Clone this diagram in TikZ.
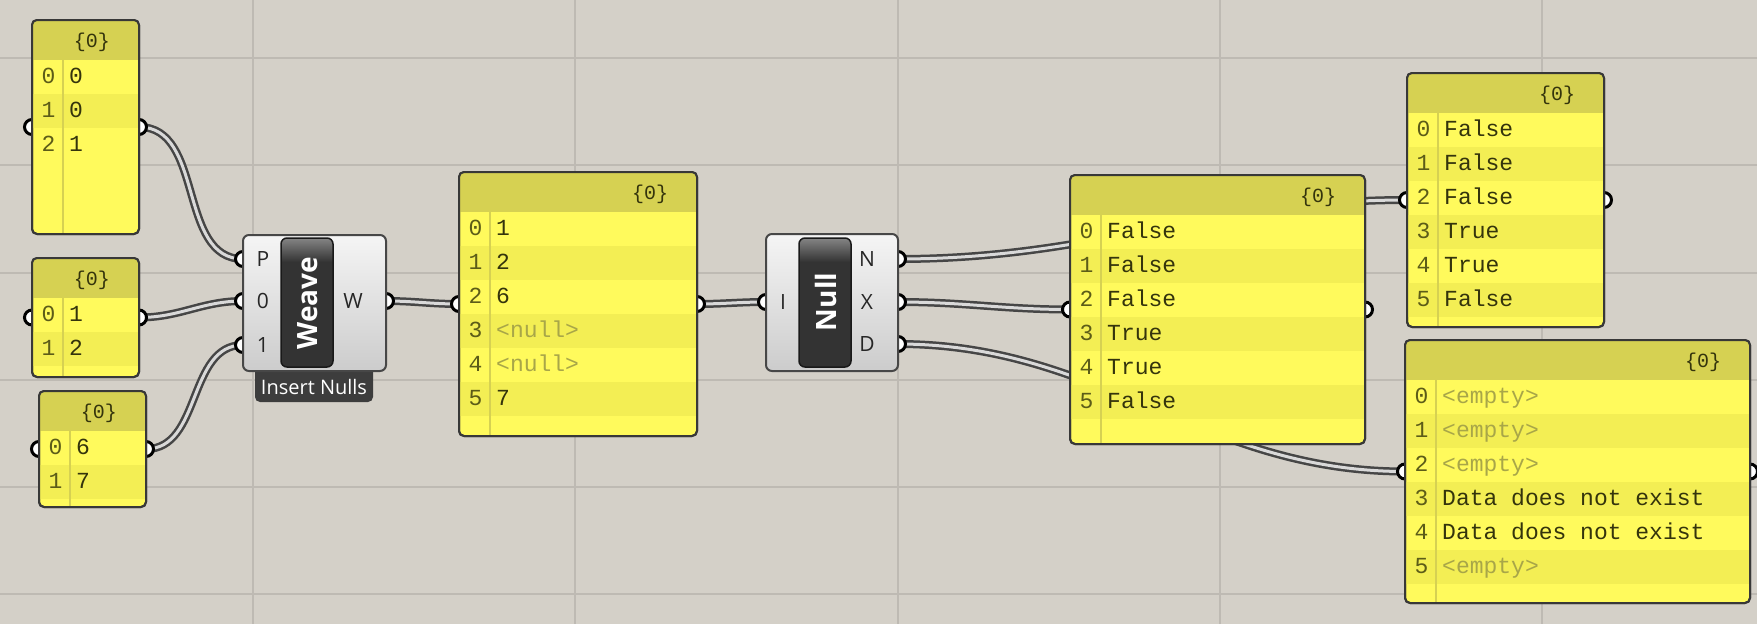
\documentclass[tikz,border=0pt]{standalone}
\usepackage{fontspec}
\newfontfamily\ghmono{Liberation Mono}
\newfontfamily\ghsans{Open Sans}
\usetikzlibrary{fit}
\usetikzlibrary{backgrounds}

\definecolor{ghbg}{RGB}{212,208,200}
\definecolor{ghgrid}{RGB}{190,186,179}
\definecolor{ghyellow}{RGB}{255,250,92}
\definecolor{ghband}{RGB}{243,238,84}
\definecolor{ghhead}{RGB}{214,209,82}
\definecolor{ghtext}{RGB}{52,52,12}
\definecolor{ghidx}{RGB}{92,92,24}
\definecolor{ghnull}{RGB}{168,166,72}
\definecolor{ghwire}{RGB}{70,70,70}

\begin{document}
\begin{tikzpicture}[x=1pt,y=-1pt]
\tikzset{panel/.style={draw=black!78,line width=2pt,rounded corners=5pt,fill=ghyellow,inner sep=0,outer sep=0}}
\tikzset{panelrim/.style={draw=black!78,line width=2pt,rounded corners=5pt}}
\tikzset{comp/.style={draw=black!72,line width=2pt,rounded corners=6pt,top color=black!4,bottom color=black!20,inner sep=0,outer sep=0}}
\tikzset{block/.style={draw=black!90,line width=1.5pt,rounded corners=6pt,inner sep=0,outer sep=0}}
\tikzset{tag/.style={fill=black!76,rounded corners=5pt,inner sep=0,outer sep=0}}
\tikzset{idx/.style={font=\ghmono\fontsize{23}{26}\selectfont,text=ghidx,anchor=base,inner sep=0}}
\tikzset{val/.style={font=\ghmono\fontsize{23}{26}\selectfont,text=ghtext,anchor=base west,inner sep=0}}
\tikzset{headtxt/.style={font=\ghmono\fontsize{20}{24}\selectfont,text=ghtext,anchor=base,inner sep=0}}
\tikzset{port/.style={font=\ghsans\fontsize{21}{24}\selectfont,text=black!85,inner sep=0}}
\tikzset{tagtxt/.style={font=\ghsans\fontsize{20}{22}\selectfont,text=white,inner sep=0}}
\tikzset{nametxt/.style={font=\ghsans\bfseries\fontsize{28}{30}\selectfont,text=white,rotate=90,inner sep=0}}
\tikzset{wire/.style={draw=ghwire,line width=2.5pt,double=black!15,double distance=3pt}}
\tikzset{grip/.style={draw=black,line width=3pt,fill=white}}

\useasboundingbox (0,0) rectangle (1757,624);

% panels - name / left / top / right / bottom / darker rows / items
\foreach \nm/\xl/\yt/\xr/\yb/\bands/\vals in {
  p1/32/20/139/234/{1}/{0,0,1},
  p2/32/258/139/377/{1}/{1,2},
  p3/39/391/146/507/{1}/{6,7},
  p4/459/172/697/436/{1,3,5}/{1,2,6,\textcolor{ghnull}{<null>},\textcolor{ghnull}{<null>},7},
  p5/1070/175/1365/444/{1,3,5}/{False,False,False,True,True,False},
  p6/1407/73/1604/327/{1,3,5}/{False,False,False,True,True,False},
  p7/1405/340/1750/603/{1,3,5}/{\textcolor{ghnull}{<empty>},\textcolor{ghnull}{<empty>},\textcolor{ghnull}{<empty>},Data does not exist,Data does not exist,\textcolor{ghnull}{<empty>}}} {
  \node[panel,fit={(\xl,\yt) (\xr,\yb)}] (\nm) {};
  \begin{scope}
    \clip[rounded corners=5pt] (\xl,\yt) rectangle (\xr,\yb);
    \fill[ghhead] (\xl,\yt) rectangle (\xr,\yt+40);
    \foreach \k in \bands
      \fill[ghband] (\xl,\yt+40+34*\k) rectangle (\xr,\yt+74+34*\k);
    \draw[ghhead,line width=1.5pt] (\xl+31,\yt) -- (\xl+31,\yb);
  \end{scope}
  \draw[panelrim] (\xl,\yt) rectangle (\xr,\yb);
  \node[headtxt] (\nm-h) at (\xr-47,\yt+27) {\{0\}};
  \foreach \txt [count=\i from 0] in \vals {
    \node[idx] (\nm-i\i) at (\xl+16.5,\yt+63+34*\i) {\i};
    \node[val] (\nm-v\i) at (\xl+37,\yt+63+34*\i) {\txt};
  }
}

% weave component
\node[tag,fit={(255,360) (373,402)}] (wv-t) {};
\node[tagtxt] (wv-tl) at (314,387) {Insert Nulls};
\node[comp,fit={(243,235) (386,371)}] (wv) {};
\begin{scope}
\clip[rounded corners=6pt] (281,238) rectangle (333,367);
\fill[black!80] (281,238) rectangle (333,367);
\shade[top color=black!48,bottom color=black!80] (281,238) rectangle (333,262);
\end{scope}
\node[block,fit={(281,238) (333,367)}] (wv-b) {};
\node[nametxt] (wv-n) at (308,303) {Weave};
\node[port] (wv-P) at (263,259) {P};
\node[port] (wv-0) at (263,301) {0};
\node[port] (wv-1) at (263,345) {1};
\node[port] (wv-W) at (353,301) {W};

% null component
\node[comp,fit={(766,234) (898,371)}] (nl) {};
\begin{scope}
\clip[rounded corners=6pt] (799,238) rectangle (851,367);
\fill[black!80] (799,238) rectangle (851,367);
\shade[top color=black!48,bottom color=black!80] (799,238) rectangle (851,262);
\end{scope}
\node[block,fit={(799,238) (851,367)}] (nl-b) {};
\node[nametxt] (nl-n) at (826,302) {Null};
\node[port] (nl-I) at (783,302) {I};
\node[port] (nl-N) at (867,259) {N};
\node[port] (nl-X) at (867,302) {X};
\node[port] (nl-D) at (867,344) {D};

\begin{scope}[on background layer]
\fill[ghbg] (0,0) rectangle (1757,624);
\foreach \x in {253,575,898,1220,1542}
  \draw[ghgrid,line width=2pt] (\x,0) -- (\x,624);
\foreach \y in {58,165,273,380,487,594}
  \draw[ghgrid,line width=2pt] (0,\y) -- (1757,\y);

% wires
\draw[wire] (p1.east) to[out=0,in=180] (wv-P -| wv.west);
\draw[wire] (p2.east) to[out=0,in=180] (wv-0 -| wv.west);
\draw[wire] (p3.east) to[out=0,in=180] (wv-1 -| wv.west);
\draw[wire] (wv-W -| wv.east) to[out=0,in=180] (p4.west);
\draw[wire] (p4.east) to[out=0,in=180] (nl-I -| nl.west);
\draw[wire] (nl-N -| nl.east) to[out=0,in=180] (p6.west);
\draw[wire] (nl-X -| nl.east) to[out=0,in=180] (p5.west);
\draw[wire] (nl-D -| nl.east) to[out=0,in=180] (p7.west);

% grips
\foreach \k in {1,...,7}
  \draw[grip] (p\k.west) circle (7.5) (p\k.east) circle (7.5);
\foreach \g in {P,0,1}
  \draw[grip] (wv-\g -| wv.west) circle (7.5);
\draw[grip] (wv-W -| wv.east) circle (7.5);
\draw[grip] (nl-I -| nl.west) circle (7.5);
\foreach \g in {N,X,D}
  \draw[grip] (nl-\g -| nl.east) circle (7.5);
\end{scope}

\end{tikzpicture}
\end{document}
